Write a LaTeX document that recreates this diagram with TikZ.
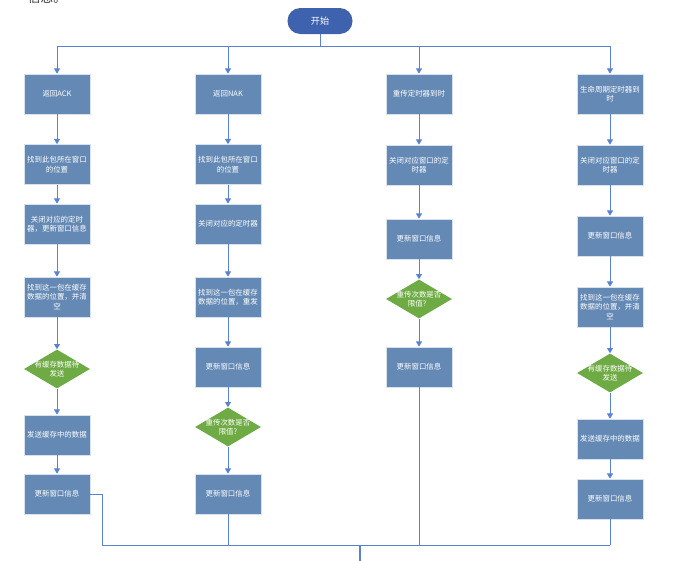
\documentclass[tikz,border=0pt]{standalone}
\usepackage{fontspec}
\setmainfont{Noto Sans CJK SC}
\usepackage{xcolor}
\usepackage{tikz}
\usetikzlibrary{positioning,arrows.meta,shapes.geometric}
\definecolor{BoxBlue}{HTML}{6489B4}
\definecolor{StartBlue}{HTML}{3F62AE}
\definecolor{DecGreen}{HTML}{6FAB45}
\definecolor{LineBlue}{HTML}{5A82D4}
\definecolor{TextDark}{HTML}{333333}

\begin{document}
\begin{tikzpicture}[x=0.025cm, y=-0.025cm,
    every node/.style={font=\fontsize{5.3}{6.6}\selectfont, text=white, align=center},
    stepbox/.style={rectangle, fill=BoxBlue, draw=white!75!BoxBlue, line width=0.5pt,
      minimum width=1.65cm, minimum height=1.0cm, inner sep=1pt},
    startbox/.style={rectangle, rounded corners=0.32cm, fill=StartBlue,
      minimum width=1.625cm, minimum height=0.65cm, font=\fontsize{6.5}{8}\selectfont},
    decision/.style={diamond, fill=DecGreen, minimum width=1.65cm, minimum height=0.975cm,
      inner sep=0pt},
    link/.style={draw=LineBlue, line width=0.7pt},
    arr/.style={link, -{Triangle[length=1.3mm, width=1.5mm]}}]
  \useasboundingbox (0,0) rectangle (700,561);

  % cut-off text of the page above
  \begin{scope}
    \clip (0,0) rectangle (700,561);
    \node[anchor=west, text=TextDark, font=\fontsize{9}{10}\selectfont] (prev) at (23,-2) {信息。};
  \end{scope}

  \node[startbox] (start) at (320,21) {开始};
  \coordinate (bus) at (320,46);

  % column 1: ACK
  \node[stepbox] (a1) at (57,94) {返回ACK};
  \node[stepbox] (a2) at (57,164.5) {找到此包所在窗口\\的位置};
  \node[stepbox] (a3) at (57,224) {关闭对应的定时\\器，更新窗口信息};
  \node[stepbox] (a4) at (57,297) {找到这一包在缓存\\数据的位置，并清\\空};
  \node[decision, label={center:有缓存数据待\\发送}] (a5) at (57,369) {};
  \node[stepbox] (a6) at (57,435) {发送缓存中的数据};
  \node[stepbox] (a7) at (57,494) {更新窗口信息};

  % column 2: NAK
  \node[stepbox] (b1) at (228,94) {返回NAK};
  \node[stepbox] (b2) at (228,164.5) {找到此包所在窗口\\的位置};
  \node[stepbox] (b3) at (228,224) {关闭对应的定时器};
  \node[stepbox] (b4) at (228,297) {找到这一包在缓存\\数据的位置，重发};
  \node[stepbox] (b5) at (228,367) {更新窗口信息};
  \node[decision, label={center:重传次数是否\\限值?}] (b6) at (228,427) {};
  \node[stepbox] (b7) at (228,494) {更新窗口信息};

  % column 3: retransmission timer
  \node[stepbox] (c1) at (419,94) {重传定时器到时};
  \node[stepbox] (c2) at (419,165) {关闭对应窗口的定\\时器};
  \node[stepbox] (c3) at (419,239) {更新窗口信息};
  \node[decision, label={center:重传次数是否\\限值？}] (c4) at (419,299) {};
  \node[stepbox] (c5) at (419,367) {更新窗口信息};

  % column 4: lifetime timer
  \node[stepbox] (d1) at (610,94) {生命周期定时器到\\时};
  \node[stepbox] (d2) at (610,165) {关闭对应窗口的定\\时器};
  \node[stepbox] (d3) at (610,236) {更新窗口信息};
  \node[stepbox] (d4) at (610,307) {找到这一包在缓存\\数据的位置，并清\\空};
  \node[decision, label={center:有缓存数据待\\发送}] (d5) at (610,373) {};
  \node[stepbox] (d6) at (610,439) {发送缓存中的数据};
  \node[stepbox] (d7) at (610,499) {更新窗口信息};

  % fan out from start
  \draw[link] (start) -- (bus);
  \draw[link] (a1 |- bus) -- (d1 |- bus);
  \foreach \c in {a1,b1,c1,d1}
    \draw[arr] (\c |- bus) -- (\c);

  \foreach \u/\v in {a1/a2,a2/a3,a3/a4,a4/a5,a5/a6,a6/a7,
                     b1/b2,b2/b3,b3/b4,b4/b5,b5/b6,b6/b7,
                     c1/c2,c2/c3,c3/c4,c4/c5,
                     d1/d2,d2/d3,d3/d4,d4/d5,d5/d6,d6/d7}
    \draw[arr] (\u) -- (\v);

  % join at the bottom
  \coordinate (busL) at (102,545);
  \coordinate (sink) at (360,545);
  \coordinate (out) at (360,561);
  \draw[link] (a7.east) -| (busL) -- (d7 |- busL);
  \draw[link] (b7) -- (b7 |- busL);
  \draw[link] (c5) -- (c5 |- busL);
  \draw[link] (d7) -- (d7 |- busL);
  \draw[link, line width=1.4pt] (sink) -- (out);
\end{tikzpicture}
\end{document}
